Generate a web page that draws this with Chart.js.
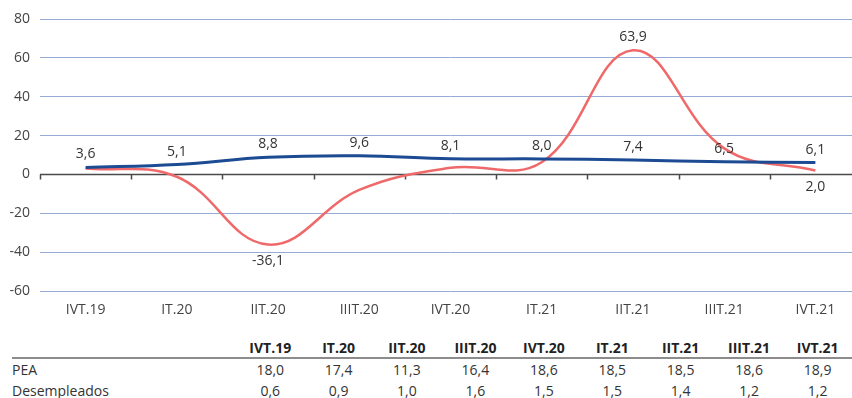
<!DOCTYPE html>
<html>
<head>
<meta charset="utf-8">
<script src="https://cdn.jsdelivr.net/npm/chart.js@4.4.1/dist/chart.umd.min.js"></script>
<style>
html, body { margin: 0; padding: 0; background: #fff; width: 852px; height: 398px; overflow: hidden; }
#wrap { position: absolute; left: 0; top: 0; width: 870px; height: 325px; }
#tabla { position: absolute; left: 12px; top: 338px; border-collapse: collapse; table-layout: fixed;
  font-family: "Open Sans", sans-serif; font-size: 14px; color: #333; }
#tabla td, #tabla th { padding: 0; line-height: 18px; white-space: nowrap; }
#tabla th { font-weight: bold; height: 19px; border-bottom: 2px solid #8c8c8c; text-align: center; color: #222; }
#tabla td { height: 21px; text-align: center; }
#tabla td.nom { text-align: left; }
</style>
</head>
<body>
<div id="wrap"><canvas id="grafico"></canvas></div>
<table id="tabla"></table>
<script>
var trimestres = ['IVT.19', 'IT.20', 'IIT.20', 'IIIT.20', 'IVT.20', 'IT.21', 'IIT.21', 'IIIT.21', 'IVT.21'];
var tasaDesempleo = [3.6, 5.1, 8.8, 9.6, 8.1, 8.0, 7.4, 6.5, 6.1];
var variacionPea = [3.0, -1.2, -36.1, -8.0, 3.4, 6.3, 63.9, 13.4, 2.0];
// indices de la serie roja que llevan etiqueta, y si va arriba (1) o abajo (-1)
var etiquetasRojas = [2, 6, 8];
var ladoRojas = [-1, 1, -1];
var pea = [18.0, 17.4, 11.3, 16.4, 18.6, 18.5, 18.5, 18.6, 18.9];
var desempleados = [0.6, 0.9, 1.0, 1.6, 1.5, 1.5, 1.4, 1.2, 1.2];

var AZUL = '#1c4b93';
var ROJO = '#f0696a';
var fuente = '"Open Sans", sans-serif';

function coma(v) { return v.toFixed(1).replace('.', ','); }

// linea del cero con marcas entre trimestres
var ejeCero = {
  id: 'ejeCero',
  beforeDatasetsDraw: function (chart) {
    var ctx = chart.ctx, x = chart.scales.x, y = chart.scales.y, area = chart.chartArea;
    var y0 = Math.round(y.getPixelForValue(0)) + 0.5;
    var medio = (x.getPixelForValue(1) - x.getPixelForValue(0)) / 2;
    ctx.save();
    ctx.strokeStyle = '#4a4a4a';
    ctx.lineWidth = 1.5;
    ctx.beginPath();
    ctx.moveTo(area.left, y0);
    ctx.lineTo(area.right, y0);
    for (var i = 0; i < trimestres.length; i++) {
      var xp = Math.round(x.getPixelForValue(i) - medio) + 0.5;
      ctx.moveTo(xp, y0);
      ctx.lineTo(xp, y0 + 5);
    }
    ctx.stroke();
    ctx.restore();
  }
};

var etiquetas = {
  id: 'etiquetas',
  afterDatasetsDraw: function (chart) {
    var ctx = chart.ctx;
    ctx.save();
    ctx.font = '14px ' + fuente;
    ctx.fillStyle = '#333';
    ctx.textAlign = 'center';
    ctx.textBaseline = 'middle';
    chart.getDatasetMeta(0).data.forEach(function (p, i) {
      ctx.fillText(coma(tasaDesempleo[i]), p.x, p.y - 13);
    });
    var rojos = chart.getDatasetMeta(1).data;
    etiquetasRojas.forEach(function (i, k) {
      var p = rojos[i];
      ctx.fillText(coma(variacionPea[i]), p.x, p.y - ladoRojas[k] * (ladoRojas[k] > 0 ? 13 : 16));
    });
    ctx.restore();
  }
};

new Chart(document.getElementById('grafico'), {
  type: 'line',
  data: {
    labels: trimestres,
    datasets: [
      { data: tasaDesempleo, borderColor: AZUL, borderWidth: 3, tension: 0.4, pointRadius: 0 },
      { data: variacionPea, borderColor: ROJO, borderWidth: 2.5, tension: 0.4, pointRadius: 0 }
    ]
  },
  options: {
    responsive: true,
    maintainAspectRatio: false,
    animation: false,
    devicePixelRatio: 1,
    layout: { padding: { top: 19, right: 9, left: 0, bottom: 0 } },
    plugins: { legend: { display: false }, tooltip: { enabled: false } },
    scales: {
      x: {
        offset: true,
        grid: { display: false, drawTicks: false },
        border: { display: false },
        ticks: { padding: 11, color: '#444', autoSkip: false, maxRotation: 0, font: { family: fuente, size: 14 } },
        afterFit: function (s) { s.height = 34; }
      },
      y: {
        min: -60, max: 80,
        ticks: { stepSize: 20, padding: 10, color: '#444', font: { family: fuente, size: 14 } },
        grid: {
          drawTicks: false,
          lineWidth: 1,
          color: function (c) { return c.tick && c.tick.value === 0 ? 'rgba(0,0,0,0)' : '#96acd6'; }
        },
        border: { display: false },
        afterFit: function (s) { s.width = 40; }
      }
    }
  },
  plugins: [ejeCero, etiquetas]
});

// tabla de PEA y desempleados
var tabla = document.getElementById('tabla');
var html = '<colgroup><col style="width:228px">';
trimestres.forEach(function () { html += '<col style="width:69.4px">'; });
html += '</colgroup><tr><th></th>';
trimestres.forEach(function (t) { html += '<th>' + t + '</th>'; });
html += '</tr><tr><td class="nom">PEA</td>';
pea.forEach(function (v) { html += '<td>' + coma(v) + '</td>'; });
html += '</tr><tr><td class="nom">Desempleados</td>';
desempleados.forEach(function (v) { html += '<td>' + coma(v) + '</td>'; });
html += '</tr>';
tabla.innerHTML = html;
</script>
</body>
</html>
